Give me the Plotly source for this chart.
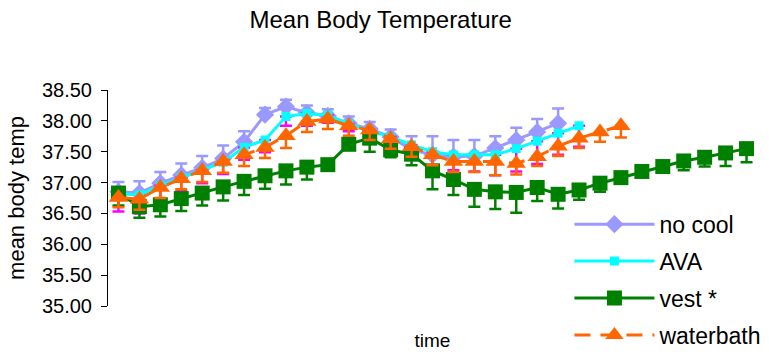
import plotly.graph_objects as go

# ---- data ----
no_cool = [36.85, 36.83, 36.99, 37.12, 37.24, 37.39, 37.66, 38.10, 38.23, 38.13, 38.08,
           37.96, 37.87, 37.74, 37.53, 37.45, 37.42, 37.43, 37.56, 37.69, 37.82, 37.96]
no_cool_err = [0.16, 0.19, 0.18, 0.19, 0.19, 0.21, 0.17, 0.11, 0.11, 0.12, 0.11,
               0.11, 0.11, 0.12, 0.22, 0.30, 0.27, 0.26, 0.19, 0.20, 0.21, 0.24]

ava = [36.82, 36.80, 36.95, 37.08, 37.20, 37.33, 37.57, 37.69, 38.07, 38.12, 38.09,
       37.95, 37.84, 37.74, 37.61, 37.50, 37.45, 37.45, 37.45, 37.55, 37.67, 37.80, 37.92]
ava_err = [0.29, 0.30, 0.25, 0.22, 0.21, 0.19, 0.20, 0.20, 0.15, 0.20, 0.12,
           0.12, 0.12, 0.15, 0.20, 0.25, 0.25, 0.27, 0.33, 0.37, 0.37, 0.35, 0.34]

vest = [36.83, 36.61, 36.64, 36.74, 36.83, 36.93, 37.02, 37.11, 37.19, 37.25, 37.29,
        37.62, 37.72, 37.53, 37.46, 37.19, 37.05, 36.89, 36.85, 36.84, 36.92, 36.81,
        36.88, 36.99, 37.08, 37.18, 37.26, 37.35, 37.41, 37.48, 37.55]
vest_err = [0.20, 0.18, 0.19, 0.20, 0.20, 0.22, 0.22, 0.21, 0.22, 0.20, 0.08,
            0.06, 0.22, 0.12, 0.18, 0.30, 0.25, 0.28, 0.28, 0.33, 0.22, 0.23,
            0.16, 0.14, 0.10, 0.08, 0.10, 0.15, 0.15, 0.21, 0.22]

waterbath = [36.76, 36.73, 36.92, 37.06, 37.19, 37.34, 37.45, 37.57, 37.76, 37.99, 38.03,
             37.92, 37.85, 37.71, 37.58, 37.45, 37.34, 37.34, 37.34, 37.31, 37.42, 37.59,
             37.72, 37.82, 37.92]
waterbath_err = [0.16, 0.17, 0.17, 0.17, 0.18, 0.18, 0.18, 0.17, 0.20, 0.17, 0.16,
                 0.16, 0.16, 0.16, 0.16, 0.17, 0.17, 0.17, 0.22, 0.18, 0.15, 0.16,
                 0.16, 0.16, 0.19]

time_points = list(range(31))
y_ticks = [35.0, 35.5, 36.0, 36.5, 37.0, 37.5, 38.0, 38.5]

FONT = "Liberation Sans, Arial, sans-serif"

fig = go.Figure()

fig.add_trace(go.Scatter(
    x=time_points[:len(no_cool)], y=no_cool, name="no cool", mode="lines+markers",
    legendgroup="g1",
    line=dict(color="#9999FF", width=3),
    marker=dict(symbol="diamond", size=14, color="#9999FF"),
    error_y=dict(type="data", array=no_cool_err, arrayminus=[0] * len(no_cool),
                 symmetric=False, color="#9999FF", thickness=2.5, width=6),
))
fig.add_trace(go.Scatter(
    x=time_points[:len(ava)], y=ava, name="AVA", mode="lines+markers",
    legendgroup="g2",
    line=dict(color="#00FFFF", width=3),
    marker=dict(symbol="square", size=9, color="#00FFFF"),
    error_y=dict(type="data", array=[0] * len(ava), arrayminus=ava_err,
                 symmetric=False, color="#FF00FF", thickness=2.5, width=6),
))
fig.add_trace(go.Scatter(
    x=time_points[:len(vest)], y=vest, name="vest *", mode="lines+markers",
    legendgroup="g3",
    line=dict(color="#008000", width=3),
    marker=dict(symbol="square", size=15, color="#008000"),
    error_y=dict(type="data", array=[0] * len(vest), arrayminus=vest_err,
                 symmetric=False, color="#008000", thickness=2.5, width=6),
))
fig.add_trace(go.Scatter(
    x=time_points[:len(waterbath)], y=waterbath, name="waterbath", mode="lines+markers",
    legendgroup="g4",
    line=dict(color="#FF6600", width=3, dash="16px,10px"),
    marker=dict(symbol="triangle-up", size=17, color="#FF6600"),
    error_y=dict(type="data", array=[0] * len(waterbath), arrayminus=waterbath_err,
                 symmetric=False, color="#FF6600", thickness=2.5, width=6),
))

fig.update_layout(
    width=769, height=354,
    margin=dict(l=108, r=11.5, t=90, b=48, autoexpand=False),
    paper_bgcolor="white", plot_bgcolor="white",
    font=dict(family=FONT, color="black", size=18),
    title=dict(text="Mean Body Temperature", x=0.495, xanchor="center",
               y=1 - 20 / 354, yanchor="middle", yref="container",
               font=dict(size=24, family=FONT)),
    xaxis=dict(range=[-0.5, 30.5], showticklabels=False, ticks="", showline=False,
               showgrid=False, zeroline=False, automargin=False,
               title=dict(text="time", font=dict(size=19), standoff=27)),
    yaxis=dict(range=[35, 38.5], tickvals=y_ticks, tickformat=".2f",
               ticks="outside", ticklen=6, tickcolor="black", showline=True,
               linecolor="black", linewidth=1, showgrid=False, zeroline=False,
               automargin=False,
               tickfont=dict(size=20), ticklabelstandoff=5,
               title=dict(text="mean body temp", font=dict(size=22), standoff=11)),
    showlegend=True,
    legend=dict(x=0.711, y=0.478, xanchor="left", yanchor="top",
                bgcolor="rgba(0,0,0,0)", font=dict(size=23, family=FONT),
                itemwidth=80, tracegroupgap=4),
)

fig.write_html("out.html")
